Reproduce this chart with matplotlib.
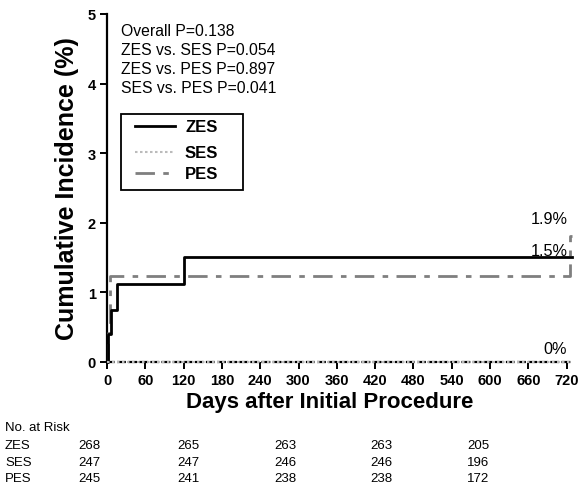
import numpy as np
import matplotlib.pyplot as plt
from matplotlib.lines import Line2D
from matplotlib.patches import Rectangle

plt.rcParams['font.family'] = ['Liberation Sans', 'DejaVu Sans']

# step data (days, cumulative incidence %)
zes_days = [0, 1, 7, 15, 120, 729]
zes_inc = [0, 0.40, 0.74, 1.12, 1.51, 1.51]
ses_days = [0, 729]
ses_inc = [0, 0]
pes_days = [0, 1, 5, 726, 729]
pes_inc = [0, 0.41, 1.24, 1.81, 1.81]

x_ticks = [0, 60, 120, 180, 240, 300, 360, 420, 480, 540, 600, 660, 720]
y_ticks = [0, 1, 2, 3, 4, 5]

pvals = ["Overall P=0.138", "ZES vs. SES P=0.054",
         "ZES vs. PES P=0.897", "SES vs. PES P=0.041"]

risk_groups = ["ZES", "SES", "PES"]
risk_counts = [[268, 265, 263, 263, 205],
               [247, 247, 246, 246, 196],
               [245, 241, 238, 238, 172]]

# line styles per group
styles = {
    "ZES": dict(color='black', lw=2),
    "SES": dict(color='#bbbbbb', lw=1.5, ls=(0, (1.2, 1.2))),
    "PES": dict(color='#7f7f7f', lw=2, dashes=[7, 3, 2, 3]),
}

W, H = 585, 485
fig = plt.figure(figsize=(W / 100, H / 100), dpi=100)
# axes box in pixels: x 107..573, y 15..363
ax = fig.add_axes([107 / W, 1 - 363 / H, (573 - 107) / W, (363 - 15) / H])

ax.plot(pes_days, pes_inc, drawstyle='steps-post', clip_on=False, zorder=3,
        **styles["PES"])
ax.plot(zes_days, zes_inc, drawstyle='steps-post', clip_on=False, zorder=4,
        **styles["ZES"])
ax.plot(ses_days, ses_inc, drawstyle='steps-post', clip_on=False, zorder=5,
        **styles["SES"])

ax.set_xlim(0, 730)
ax.set_ylim(0, 5)
ax.set_xticks(x_ticks)
ax.set_yticks(y_ticks)
ax.spines['top'].set_visible(False)
ax.spines['right'].set_visible(False)
ax.spines['left'].set_linewidth(1.6)
ax.spines['bottom'].set_linewidth(1.6)
ax.spines['bottom'].set_linestyle((0, (3, 2)))
ax.tick_params(width=1.4, length=5, labelsize=10.5, pad=3)
for lab in ax.get_xticklabels() + ax.get_yticklabels():
    lab.set_fontweight('bold')

ax.set_ylabel('Cumulative Incidence (%)', fontsize=18, fontweight='bold',
              labelpad=6)
ax.set_xlabel('Days after Initial Procedure', fontsize=16, fontweight='bold')
ax.xaxis.set_label_coords((330 - 107) / 466, -29 / 348)

for i, t in enumerate(pvals):
    fig.text(121 / W, 1 - (31 + i * 19.2) / H, t, fontsize=11.3, va='center')

# legend box drawn by hand (Prism style spacing)
fig.add_artist(Rectangle((121 / W, 1 - 191 / H), 122 / W, 76 / H,
                         transform=fig.transFigure, fill=False,
                         edgecolor='black', lw=1.3))
leg_y = [127, 153, 174]
for g, yy in zip(risk_groups, leg_y):
    fig.add_artist(Line2D([135 / W, 175 / W], [1 - yy / H, 1 - yy / H],
                          transform=fig.transFigure, **styles[g]))
    fig.text(185 / W, 1 - (yy + 0.5) / H, g, fontsize=12, fontweight='bold',
             va='center')

fig.text(568 / W, 1 - 220 / H, '1.9%', fontsize=11.7, va='center', ha='right')
fig.text(568 / W, 1 - 251 / H, '1.5%', fontsize=11.7, va='center', ha='right')
fig.text(567 / W, 1 - 350 / H, '0%', fontsize=11.7, va='center', ha='right')

# number at risk table
col_x = [89, 188, 285, 381, 478]
fig.text(5 / W, 1 - 428 / H, 'No. at Risk', fontsize=9.5, va='center')
for r, g in enumerate(risk_groups):
    y = 1 - (446 + r * 16.5) / H
    fig.text(5 / W, y, g, fontsize=9.5, va='center')
    for c, n in enumerate(risk_counts[r]):
        fig.text(col_x[c] / W, y, str(n), fontsize=9.5, va='center',
                 ha='center')

fig.savefig('out.png', dpi=100)
